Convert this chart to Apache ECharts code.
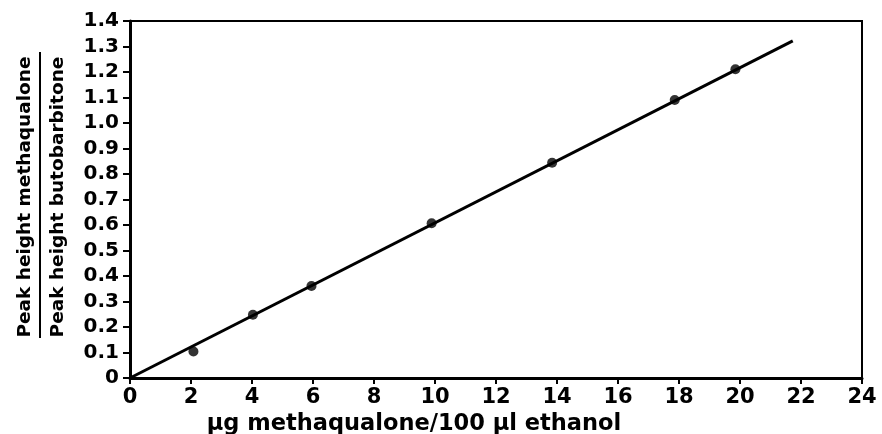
<!DOCTYPE html>
<html>
<head>
<meta charset="utf-8">
<script src="https://cdn.jsdelivr.net/npm/echarts@6/dist/echarts.min.js"></script>
<style>
html,body{margin:0;padding:0;background:#fff;}
#chart{width:882px;height:434px;}
</style>
</head>
<body>
<div id="chart"></div>
<script>
// Data
var pointX = [2.08, 4.03, 5.95, 9.89, 13.84, 17.86, 19.85];
var pointY = [0.104, 0.248, 0.361, 0.607, 0.844, 1.090, 1.211];
var fitX = [0, 21.73];
var fitY = [0, 1.322];
var xTickLabels = ['0','2','4','6','8','10','12','14','16','18','20','22','24'];
var yTickLabels = ['0','0.1','0.2','0.3','0.4','0.5','0.6','0.7','0.8','0.9','1.0','1.1','1.2','1.3','1.4'];
var xTitle = 'µg methaqualone/100 µl ethanol';
var yTitleTop = 'Peak height methaqualone';
var yTitleBottom = 'Peak height butobarbitone';

var FONT = '"DejaVu Sans", sans-serif';
var chart = echarts.init(document.getElementById('chart'), null, {renderer: 'canvas'});

var option = {
  animation: false,
  backgroundColor: '#ffffff',
  grid: {
    left: 130, right: 20, top: 21, bottom: 56,
    containLabel: false, outerBoundsMode: 'none',
    show: true, borderColor: '#000', borderWidth: 2, backgroundColor: 'transparent'
  },
  xAxis: {
    type: 'value', min: 0, max: 24, interval: 2,
    axisLine: {show: true, onZero: false, lineStyle: {color: '#000', width: 3}},
    axisTick: {show: true, length: 6, lineStyle: {color: '#000', width: 2}},
    splitLine: {show: false},
    axisLabel: {
      margin: 9, color: '#000', fontFamily: FONT, fontSize: 21, fontWeight: 'bold',
      formatter: function (v, i) { return xTickLabels[i]; }
    },
    name: xTitle, nameLocation: 'middle', nameGap: 31,
    nameTextStyle: {color: '#000', fontFamily: FONT, fontSize: 22.5, fontWeight: 'bold', padding: [0, 164, 0, 0]}
  },
  yAxis: {
    type: 'value', min: 0, max: 1.4, interval: 0.1,
    axisLine: {show: true, onZero: false, lineStyle: {color: '#000', width: 3}},
    axisTick: {show: true, length: 7, lineStyle: {color: '#000', width: 2}},
    splitLine: {show: false},
    axisLabel: {
      margin: 11, color: '#000', fontFamily: FONT, fontSize: 20, fontWeight: 'bold',
      formatter: function (v, i) { return yTickLabels[i]; }
    }
  },
  series: [
    {
      type: 'line', data: fitX.map(function (x, i) { return [x, fitY[i]]; }),
      symbol: 'none', lineStyle: {color: '#000', width: 3}, silent: true, z: 2
    },
    {
      type: 'scatter', data: pointX.map(function (x, i) { return [x, pointY[i]]; }),
      symbol: 'circle', symbolSize: 10, itemStyle: {color: '#000'}, z: 3
    }
  ],
  graphic: [
    {
      type: 'text', x: 25, y: 197, rotation: Math.PI / 2,
      style: {text: yTitleTop, fill: '#000', font: 'bold 18.5px ' + FONT, align: 'center', verticalAlign: 'middle'}
    },
    {
      type: 'line', shape: {x1: 40, y1: 52, x2: 40, y2: 338},
      style: {stroke: '#000', lineWidth: 2}
    },
    {
      type: 'text', x: 58, y: 197, rotation: Math.PI / 2,
      style: {text: yTitleBottom, fill: '#000', font: 'bold 18.5px ' + FONT, align: 'center', verticalAlign: 'middle'}
    }
  ]
};
chart.setOption(option);
</script>
</body>
</html>
